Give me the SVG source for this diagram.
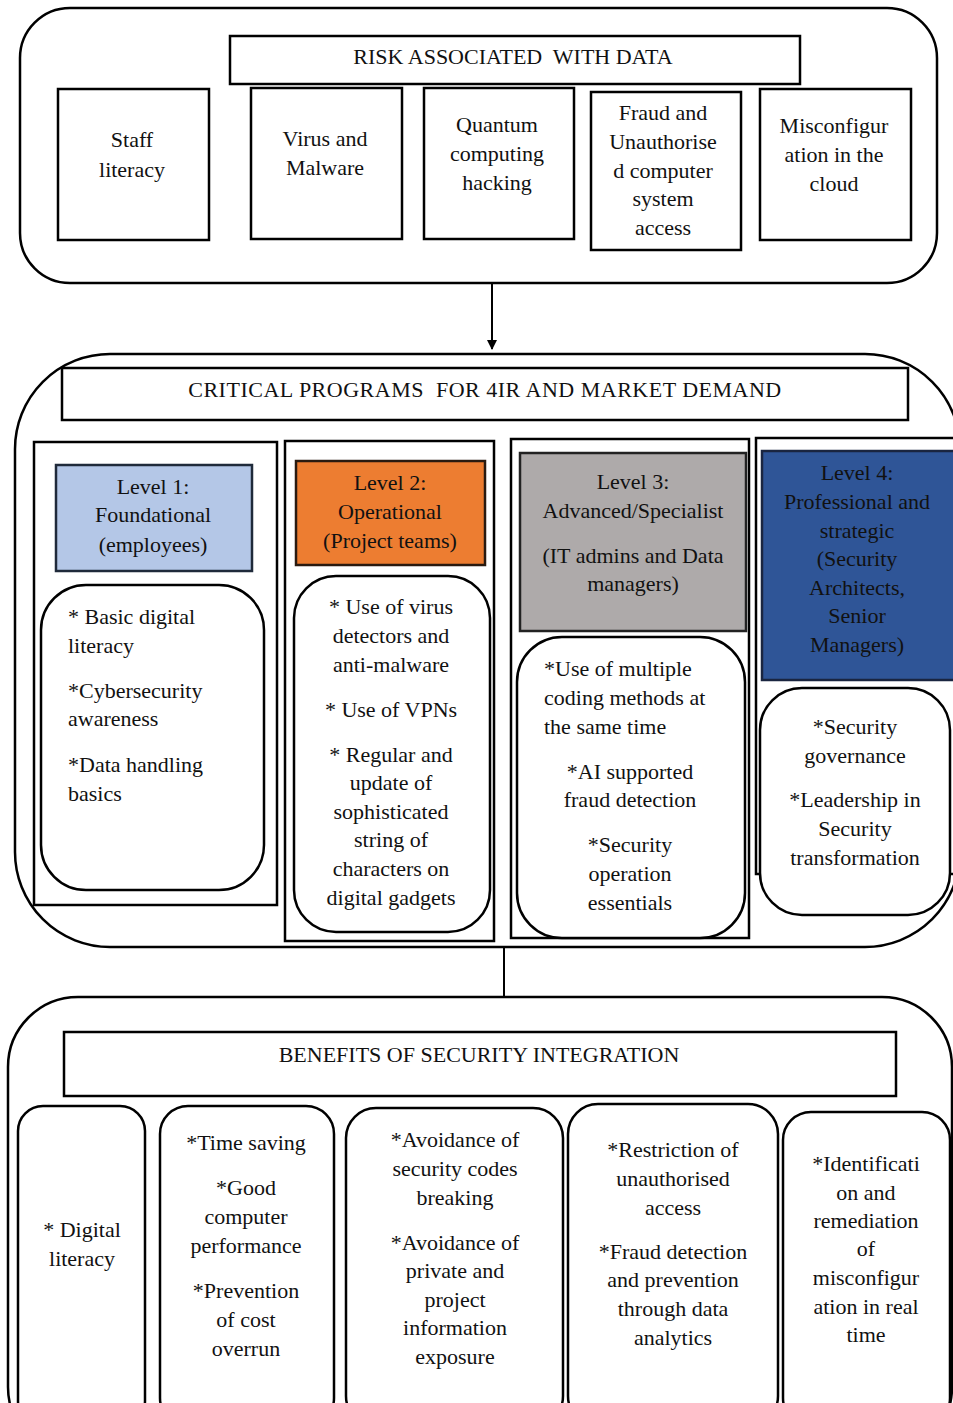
<svg xmlns="http://www.w3.org/2000/svg" width="953" height="1403" viewBox="0 0 953 1403">
<defs>
<style>
.o{fill:none;stroke:#000;stroke-width:2.5}
.b{fill:#fff;stroke:#000;stroke-width:2.5}
.t{font-family:"Liberation Serif","Times New Roman","DejaVu Serif",serif;font-size:22px;fill:#111;text-anchor:middle}
.l{text-anchor:start}
.p{white-space:pre}
</style>
<marker id="ah" viewBox="0 0 10 10" refX="9" refY="5" markerWidth="5" markerHeight="5" orient="auto"><path d="M0,0 L10,5 L0,10 z" fill="#000"/></marker>
</defs>
<rect width="953" height="1403" fill="#fff"/>

<g id="risk-section">
<rect class="o" x="20" y="8" width="917" height="275" rx="50"/>
<rect class="b" x="230" y="36" width="570" height="48"/>
<text class="t p" x="513" y="64" xml:space="preserve">RISK ASSOCIATED  WITH DATA</text>
</g>
<g id="risk-staff">
<rect class="b" x="58" y="89" width="151" height="151"/>
<text class="t" x="132" y="147">Staff</text><text class="t" x="132" y="177">literacy</text>
</g>
<g id="risk-virus">
<rect class="b" x="251" y="88" width="151" height="151"/>
<text class="t" x="325" y="146">Virus and</text><text class="t" x="325" y="175">Malware</text>
</g>
<g id="risk-quantum">
<rect class="b" x="424" y="88" width="150" height="151"/>
<text class="t" x="497" y="132">Quantum</text><text class="t" x="497" y="161">computing</text><text class="t" x="497" y="190">hacking</text>
</g>
<g id="risk-fraud">
<rect class="b" x="591" y="92" width="150" height="158"/>
<text class="t" x="663" y="120">Fraud and</text><text class="t" x="663" y="149">Unauthorise</text><text class="t" x="663" y="178">d computer</text><text class="t" x="663" y="206">system</text><text class="t" x="663" y="235">access</text>
</g>
<g id="risk-misconfig">
<rect class="b" x="760" y="89" width="151" height="151"/>
<text class="t" x="834" y="133">Misconfigur</text><text class="t" x="834" y="162">ation in the</text><text class="t" x="834" y="191">cloud</text>
</g>

<g id="connectors">
<line x1="492" y1="283" x2="492" y2="349" stroke="#000" stroke-width="2" marker-end="url(#ah)"/>
<line x1="504" y1="947" x2="504" y2="997" stroke="#000" stroke-width="2"/>
</g>

<g id="programs-section">
<rect class="o" x="15" y="354" width="945" height="593" rx="95"/>
<rect class="b" x="62" y="368" width="846" height="52"/>
<text class="t p" x="485" y="397" letter-spacing="0.5" xml:space="preserve">CRITICAL PROGRAMS  FOR 4IR AND MARKET DEMAND</text>
</g>

<g id="level1">
<rect class="o" x="34" y="442" width="243" height="463" stroke-width="2"/>
<rect x="56" y="465" width="196" height="106" fill="#b4c7e7" stroke="#1f2a3a" stroke-width="2.5"/>
<text class="t" x="153" y="494">Level 1:</text><text class="t" x="153" y="522">Foundational</text><text class="t" x="153" y="552">(employees)</text>
<rect class="b" x="41" y="585" width="223" height="305" rx="45"/>
<text class="t l" x="68" y="624">* Basic digital</text><text class="t l" x="68" y="653">literacy</text>
<text class="t l" x="68" y="698">*Cybersecurity</text><text class="t l" x="68" y="726">awareness</text>
<text class="t l" x="68" y="772">*Data handling</text><text class="t l" x="68" y="801">basics</text>
</g>

<g id="level2">
<rect class="o" x="285" y="441" width="209" height="500" stroke-width="2"/>
<rect x="296" y="461" width="189" height="104" fill="#ed7d31" stroke="#2a1a10" stroke-width="2.5"/>
<text class="t" x="390" y="490">Level 2:</text><text class="t" x="390" y="519">Operational</text><text class="t" x="390" y="548">(Project teams)</text>
<rect class="b" x="294" y="576" width="196" height="356" rx="42"/>
<text class="t" x="391" y="614">* Use of virus</text><text class="t" x="391" y="643">detectors and</text><text class="t" x="391" y="672">anti-malware</text>
<text class="t" x="391" y="717">* Use of VPNs</text>
<text class="t" x="391" y="762">* Regular and</text><text class="t" x="391" y="790">update of</text><text class="t" x="391" y="819">sophisticated</text><text class="t" x="391" y="847">string of</text><text class="t" x="391" y="876">characters on</text><text class="t" x="391" y="905">digital gadgets</text>
</g>

<g id="level3">
<rect class="o" x="511" y="439" width="238" height="499" stroke-width="2"/>
<rect x="520" y="453" width="226" height="178" fill="#aeaaaa" stroke="#222" stroke-width="2.5"/>
<text class="t" x="633" y="489">Level 3:</text><text class="t" x="633" y="518">Advanced/Specialist</text><text class="t" x="633" y="563">(IT admins and Data</text><text class="t" x="633" y="591">managers)</text>
<rect class="b" x="517" y="637" width="228" height="301" rx="45"/>
<text class="t l" x="544" y="676">*Use of multiple</text><text class="t l" x="544" y="705">coding methods at</text><text class="t l" x="544" y="734">the same time</text>
<text class="t" x="630" y="779">*AI supported</text><text class="t" x="630" y="807">fraud detection</text>
<text class="t" x="630" y="852">*Security</text><text class="t" x="630" y="881">operation</text><text class="t" x="630" y="910">essentials</text>
</g>

<g id="level4">
<rect class="o" x="756" y="438" width="210" height="436" stroke-width="2"/>
<rect x="762" y="451" width="200" height="229" fill="#2f5597" stroke="#1a2540" stroke-width="2.5"/>
<text class="t" x="857" y="480">Level 4:</text><text class="t" x="857" y="509">Professional and</text><text class="t" x="857" y="538">strategic</text><text class="t" x="857" y="566">(Security</text><text class="t" x="857" y="595">Architects,</text><text class="t" x="857" y="623">Senior</text><text class="t" x="857" y="652">Managers)</text>
<rect class="b" x="760" y="688" width="190" height="227" rx="42"/>
<text class="t" x="855" y="734">*Security</text><text class="t" x="855" y="763">governance</text>
<text class="t" x="855" y="807">*Leadership in</text><text class="t" x="855" y="836">Security</text><text class="t" x="855" y="865">transformation</text>
</g>

<g id="benefits-section">
<rect class="o" x="8" y="997" width="944" height="460" rx="70"/>
<rect class="b" x="64" y="1032" width="832" height="64"/>
<text class="t" x="479" y="1062">BENEFITS OF SECURITY INTEGRATION</text>
</g>
<g id="benefit-1">
<rect class="b" x="18" y="1106" width="127" height="320" rx="25"/>
<text class="t" x="82" y="1237">* Digital</text><text class="t" x="82" y="1266">literacy</text>
</g>
<g id="benefit-2">
<rect class="b" x="160" y="1106" width="174" height="320" rx="28"/>
<text class="t" x="246" y="1150">*Time saving</text>
<text class="t" x="246" y="1195">*Good</text><text class="t" x="246" y="1224">computer</text><text class="t" x="246" y="1253">performance</text>
<text class="t" x="246" y="1298">*Prevention</text><text class="t" x="246" y="1327">of cost</text><text class="t" x="246" y="1356">overrun</text>
</g>
<g id="benefit-3">
<rect class="b" x="346" y="1108" width="217" height="318" rx="30"/>
<text class="t" x="455" y="1147">*Avoidance of</text><text class="t" x="455" y="1176">security codes</text><text class="t" x="455" y="1205">breaking</text>
<text class="t" x="455" y="1250">*Avoidance of</text><text class="t" x="455" y="1278">private and</text><text class="t" x="455" y="1307">project</text><text class="t" x="455" y="1335">information</text><text class="t" x="455" y="1364">exposure</text>
</g>
<g id="benefit-4">
<rect class="b" x="568" y="1104" width="210" height="322" rx="30"/>
<text class="t" x="673" y="1157">*Restriction of</text><text class="t" x="673" y="1186">unauthorised</text><text class="t" x="673" y="1215">access</text>
<text class="t" x="673" y="1259">*Fraud detection</text><text class="t" x="673" y="1287">and prevention</text><text class="t" x="673" y="1316">through data</text><text class="t" x="673" y="1345">analytics</text>
</g>
<g id="benefit-5">
<rect class="b" x="783" y="1112" width="167" height="314" rx="28"/>
<text class="t" x="866" y="1171">*Identificati</text><text class="t" x="866" y="1200">on and</text><text class="t" x="866" y="1228">remediation</text><text class="t" x="866" y="1256">of</text><text class="t" x="866" y="1285">misconfigur</text><text class="t" x="866" y="1314">ation in real</text><text class="t" x="866" y="1342">time</text>
</g>
</svg>
